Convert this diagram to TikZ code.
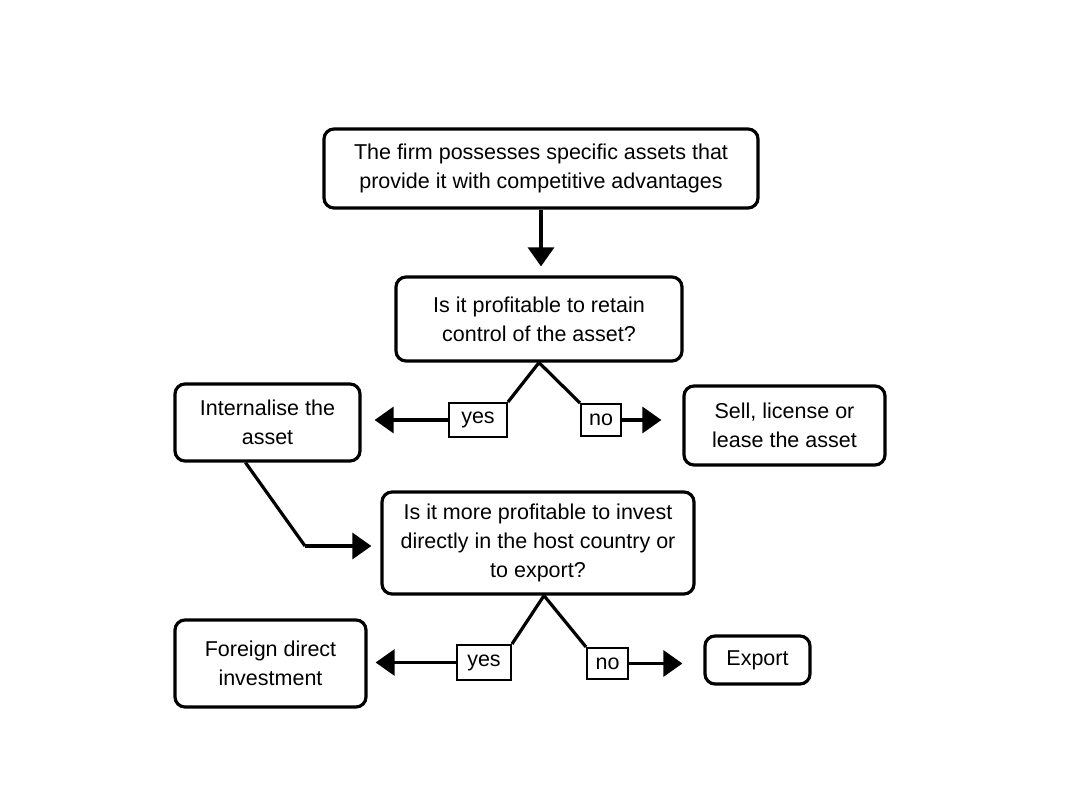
\documentclass[tikz,border=0pt]{standalone}
\usepackage{fontspec}
\setmainfont{Liberation Sans}
\usetikzlibrary{arrows.meta}
\begin{document}
\begin{tikzpicture}[x=1pt,y=-1pt,
  box/.style={draw, line width=3.2pt, rounded corners=10pt, align=center, inner sep=0pt,
    font=\fontsize{21.5}{29}\selectfont},
  lab/.style={draw, line width=2pt, inner sep=0pt, font=\fontsize{21.5}{24}\selectfont},
  conn/.style={line width=3.2pt},
  arr/.style={line width=3.2pt, -{Triangle[length=19pt,width=26pt]}}
]
\useasboundingbox (0,0) rectangle (1080,810);
\node[box, minimum width=434pt, minimum height=79pt] (top) at (541,168.5)
  {The firm possesses specific assets that\\provide it with competitive advantages};
\node[box, minimum width=286pt, minimum height=84pt] (q1) at (539,319)
  {Is it profitable to retain\\control of the asset?};
\node[lab, minimum width=58pt, minimum height=34pt] (yes1) at (478,420) {yes};
\node[lab, minimum width=40pt, minimum height=32pt] (no1) at (601,420) {no};
\node[box, minimum width=185pt, minimum height=77pt] (int) at (267.5,422.5)
  {Internalise the\\asset};
\node[box, minimum width=201pt, minimum height=79pt] (sell) at (784.5,425.5)
  {Sell, license or\\lease the asset};
\node[box, minimum width=312pt, minimum height=102pt] (q2) at (538,543)
  {Is it more profitable to invest\\directly in the host country or\\to export?};
\node[lab, minimum width=54pt, minimum height=35pt] (yes2) at (484,662.5) {yes};
\node[lab, minimum width=41pt, minimum height=31pt] (no2) at (607.5,663.5) {no};
\node[box, minimum width=191pt, minimum height=87pt] (fdi) at (270.5,663.5)
  {Foreign direct\\investment};
\node[box, minimum width=105pt, minimum height=48pt] (exp) at (757.5,660)
  {Export};
\coordinate (bend) at (305,546);

\draw[arr, shorten >=9pt] (top.south) -- (top.south |- q1.north);
\draw[conn] (q1.south) -- (yes1.north east);
\draw[conn] (q1.south) -- (no1.north west);
\draw[arr, shorten >=13pt] (yes1.west) -- (int.east |- yes1.west);
\draw[arr, shorten >=21pt] (no1.east) -- (sell.west |- no1.east);
\draw[conn] ([xshift=-22pt]int.south) -- (bend);
\draw[arr, shorten >=9pt] (bend) -- (q2.west |- bend);
\draw[conn] ([xshift=6pt]q2.south) -- (yes2.north east);
\draw[conn] ([xshift=6pt]q2.south) -- (no2.north west);
\draw[arr, shorten >=8pt] (yes2.west) -- (fdi.east |- yes2.west);
\draw[arr, shorten >=21pt] (no2.east) -- (exp.west |- no2.east);
\end{tikzpicture}
\end{document}
